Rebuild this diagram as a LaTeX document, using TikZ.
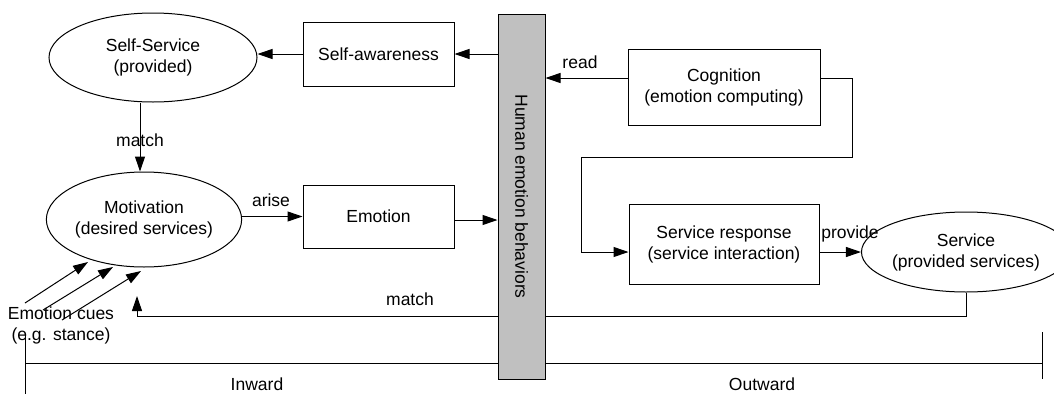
\documentclass[tikz,border=0pt]{standalone}
\usepackage{fontspec}
\setmainfont{Liberation Sans}
\usetikzlibrary{arrows.meta,shapes.geometric}
\begin{document}
\begin{tikzpicture}[x=1pt,y=-1pt,
  font=\fontsize{17.5}{21}\selectfont,
  line width=1pt,
  arr/.style={-{Triangle[length=15pt,width=10pt]}},
  boxnode/.style={draw,rectangle,align=center,inner sep=0pt},
  ellnode/.style={draw,ellipse,align=center,inner sep=0pt},
  lbl/.style={inner sep=0pt,fill=none}]
\useasboundingbox (0,0) rectangle (1054,394);

% axis and lower match line (behind the bar)
\coordinate (axL) at (25,363);
\coordinate (axR) at (1042,363);
\draw (25,335) -- (25,394);
\draw (1042,332) -- (1042,379);
\draw (axL) -- (axR);
\node[lbl] (inward) at (257,384.5) {Inward};
\node[lbl] (outward) at (762,384.5) {Outward};

% nodes
\node[ellnode,minimum width=208pt,minimum height=89pt] (ss) at (153,57.5) {Self-Service\\(provided)};
\node[boxnode,minimum width=151pt,minimum height=64pt] (sa) at (378.5,54) {Self-awareness};
\node[ellnode,minimum width=190pt,minimum height=95pt] (mo) at (144,219.5) {Motivation\\(desired services)};
\node[boxnode,minimum width=151pt,minimum height=63pt] (em) at (378.5,216.5) {Emotion};
\node[boxnode,minimum width=192pt,minimum height=76pt] (cog) at (724,87) {Cognition\\(emotion computing)};
\node[boxnode,minimum width=190pt,minimum height=80pt] (sr) at (724,244) {Service response\\(service interaction)};
\node[ellnode,minimum width=168pt,minimum height=80pt] (sv) at (966,252) {Service\\(provided services)};
\node[lbl,align=center] (cues) at (61,325) {Emotion cues\\(e.g. stance)};

% match from Service back to Motivation
\coordinate (mtip) at (137,296);
\draw[arr] (sv.south) |- (137,316) -- (mtip);
\node[lbl] (match2) at (410,299) {match};

% bar on top
\node[draw,rectangle,fill={rgb,255:red,192;green,192;blue,192},minimum width=47pt,minimum height=365pt,inner sep=0pt] (bar) at (521.5,196.5) {};
\node[rotate=-90,inner sep=0pt] (bartext) at (bar.center) {Human emotion behaviors};

% connectors
\draw[arr] (bar.west |- sa.east) -- (sa.east);
\draw[arr] (sa.west) -- (sa.west -| ss.east);
\draw[arr] ([xshift=-13pt]ss.south) -- ([xshift=-4pt]mo.north);
\node[lbl] (match1) at (140,140) {match};
\draw[arr] (em.west -| mo.east) -- (em.west);
\node[lbl] (arise) at (271,200) {arise};
\draw[arr] ([yshift=-3.5pt]em.east) -- ([yshift=-3.5pt]em.east -| bar.west);
\draw[arr] ([yshift=9pt]cog.west) -- ([yshift=9pt]cog.west -| bar.east);
\node[lbl] (read) at (580,62) {read};
\draw[arr] ([yshift=9pt]cog.east) -| (852,157) -| (581,252) -- ([yshift=-8pt]sr.west);
\draw[arr] ([yshift=-8pt]sr.east) -- (sv.west);
\node[lbl] (provide) at (850,234) {provide};

% emotion cue arrows
\coordinate (c1) at (25,303);
\coordinate (c2) at (43,310);
\coordinate (c3) at (62,320);
\coordinate (t1) at (88,262);
\coordinate (t2) at (113,267);
\coordinate (t3) at (141,271);
\draw[arr] (c1) -- (t1);
\draw[arr] (c2) -- (t2);
\draw[arr] (c3) -- (t3);
\end{tikzpicture}
\end{document}
